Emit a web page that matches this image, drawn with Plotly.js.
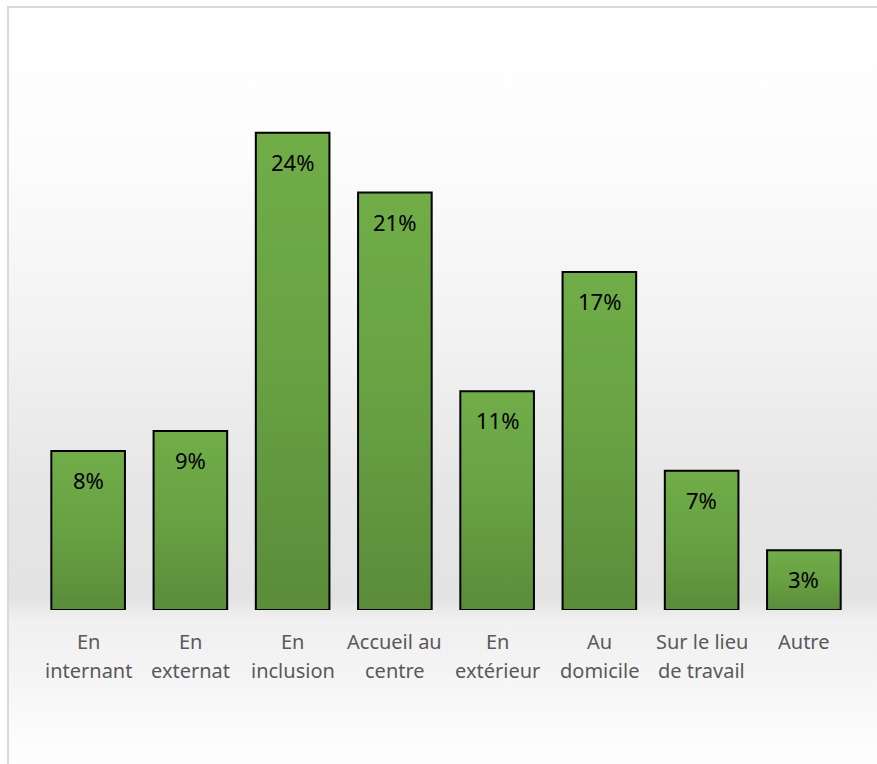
<!DOCTYPE html>
<html><head><meta charset="utf-8">
<script src="https://cdn.plot.ly/plotly-3.0.1.min.js"></script>
<style>
html,body{margin:0;padding:0;background:#fff;}
#wrap{position:absolute;left:0;top:0;width:877px;height:764px;overflow:hidden;}
#bg{position:absolute;left:7px;top:6px;width:880px;height:770px;border-left:2px solid #d9d9d9;border-top:2px solid #d9d9d9;
background:linear-gradient(to bottom,#ffffff 0px,#fcfcfc 150px,#f2f2f2 330px,#e6e6e6 480px,#e3e3e3 590px,#f0f0f0 612px,#f4f4f4 660px,#fbfbfb 720px,#ffffff 770px);}
#chart{position:absolute;left:0;top:0;width:877px;height:764px;}
</style></head>
<body><div id="wrap"><div id="bg"></div><div id="chart"></div></div>
<script>
const categories = ["En internant","En externat","En inclusion","Accueil au centre","En extérieur","Au domicile","Sur le lieu de travail","Autre"];
const labelLine1 = ["En","En","En","Accueil au","En","Au","Sur le lieu","Autre"];
const labelLine2 = ["internant","externat","inclusion","centre","extérieur","domicile","de travail",""];
const values = [8, 9, 24, 21, 11, 17, 7, 3];
const valueLabels = ["8%","9%","24%","21%","11%","17%","7%","3%"];

const FONT = "Noto Sans, Open Sans, sans-serif";
const trace = {
  type: "bar", x: categories, y: values,
  marker: {color: "#66a042", line: {color: "#000000", width: 2}},
  hoverinfo: "none", textposition: "none"
};
const annotations = [];
categories.forEach((c, i) => {
  annotations.push({x: c, y: values[i], xref: "x", yref: "y", text: valueLabels[i], showarrow: false,
    yanchor: "middle", yshift: -29, font: {family: FONT, size: 22, color: "#000000"}});
  annotations.push({x: c, y: 0, xref: "x", yref: "paper", text: labelLine1[i], showarrow: false,
    yanchor: "middle", yshift: -31, font: {family: FONT, size: 20, color: "#595959"}});
  if (labelLine2[i]) annotations.push({x: c, y: 0, xref: "x", yref: "paper", text: labelLine2[i], showarrow: false,
    yanchor: "middle", yshift: -60, font: {family: FONT, size: 20, color: "#595959"}});
});
const layout = {
  width: 877, height: 764,
  margin: {l: 37, r: 22, t: 112, b: 154, pad: 0},
  paper_bgcolor: "rgba(0,0,0,0)", plot_bgcolor: "rgba(0,0,0,0)",
  bargap: 0.28, showlegend: false,
  xaxis: {showticklabels: false, showgrid: false, zeroline: false, showline: false, ticks: ""},
  yaxis: {range: [0, 25.05], visible: false, showgrid: false, zeroline: false},
  annotations: annotations,
  font: {family: FONT}
};
Plotly.newPlot("chart", [trace], layout, {staticPlot: true}).then(() => {
  const svg = document.querySelector("#chart svg.main-svg");
  const ns = "http://www.w3.org/2000/svg";
  let defs = svg.querySelector("defs");
  if (!defs) { defs = document.createElementNS(ns, "defs"); svg.insertBefore(defs, svg.firstChild); }
  const g = document.createElementNS(ns, "linearGradient");
  g.setAttribute("id", "barGrad"); g.setAttribute("x1", "0"); g.setAttribute("y1", "0"); g.setAttribute("x2", "0"); g.setAttribute("y2", "1");
  [["0", "#70ad47"], ["0.5", "#68a143"], ["1", "#5a8c3a"]].forEach(([o, col]) => {
    const s = document.createElementNS(ns, "stop"); s.setAttribute("offset", o); s.setAttribute("stop-color", col); g.appendChild(s);
  });
  defs.appendChild(g);
  document.querySelectorAll("#chart .bars path").forEach(p => { p.style.fill = "url(#barGrad)"; });
});
</script></body></html>
